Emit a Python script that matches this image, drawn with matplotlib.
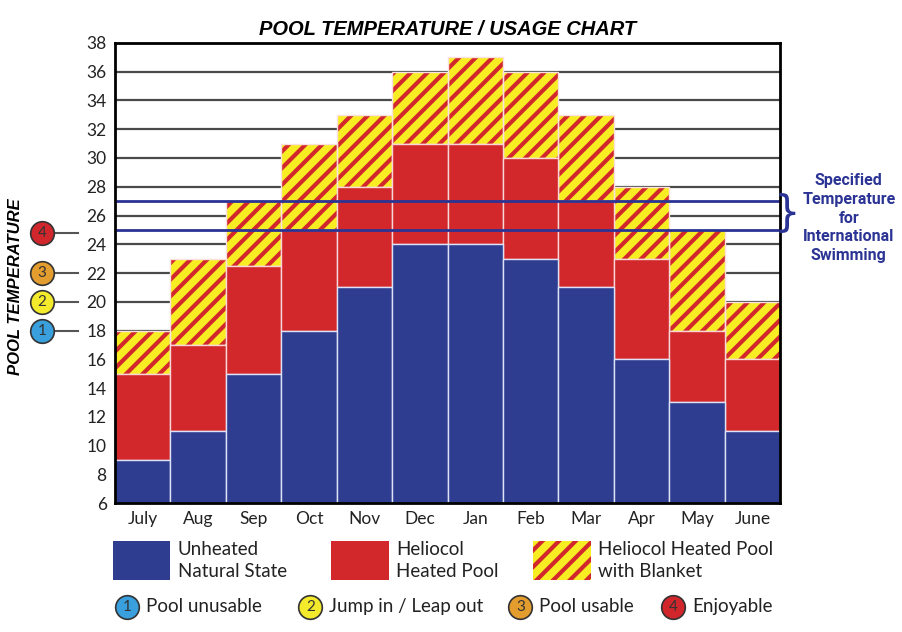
import numpy as np
import matplotlib.pyplot as plt
import matplotlib.transforms as mtransforms
from matplotlib.patches import Rectangle
from matplotlib.lines import Line2D

plt.rcParams['font.family'] = ['Lato', 'DejaVu Sans']
plt.rcParams['hatch.linewidth'] = 3.0

# datos
months = ['July', 'Aug', 'Sep', 'Oct', 'Nov', 'Dec', 'Jan', 'Feb', 'Mar', 'Apr', 'May', 'June']
unheated = [9, 11, 15, 18, 21, 24, 24, 23, 21, 16, 13, 11]
heated = [15, 17, 22.5, 25, 28, 31, 31, 30, 27, 23, 18, 16]
blanket = [18, 23, 27, 31, 33, 36, 37, 36, 33, 28, 25, 20]
spec_temps = [25, 27]
levels = [18, 20, 22, 24.8]
level_labels = ['Pool unusable', 'Jump in / Leap out', 'Pool usable', 'Enjoyable']
yticks = list(range(6, 39, 2))

c_blue = '#2F3D91'
c_red = '#D2282C'
c_yellow = '#F8EC22'
c_line = '#2B3494'
level_colors = ['#3A9FDD', '#F4EA2C', '#E39C2E', '#D1262B']

fig = plt.figure(figsize=(9.02, 6.32), dpi=100)
ax = fig.add_axes([0.1275, 0.204, 0.7375, 0.728])

x = np.arange(len(months))
# lineas de la grilla detras de las barras
for yv in yticks[1:-1]:
    ax.axhline(yv, color='#4a4a4a', lw=1.6, zorder=0)

# barras apiladas (cada capa llega hasta su temperatura)
ax.bar(x, np.array(blanket) - np.array(heated), bottom=heated, width=1,
       color=c_yellow, edgecolor=c_red, lw=0, hatch='//', zorder=2)
ax.bar(x, np.array(blanket) - np.array(heated), bottom=heated, width=1,
       fill=False, edgecolor='#fbe0e0', lw=1, zorder=3)
ax.bar(x, np.array(heated) - np.array(unheated), bottom=unheated, width=1,
       color=c_red, edgecolor='#f6d6d6', lw=1, zorder=3)
ax.bar(x, np.array(unheated) - 6, bottom=6, width=1,
       color=c_blue, edgecolor='#dde2f5', lw=1, zorder=3)

for t in spec_temps:
    ax.axhline(t, color=c_line, lw=2, zorder=4)

ax.set_xlim(-0.5, len(months) - 0.5)
ax.set_ylim(6, 38)
ax.set_yticks(yticks)
ax.set_xticks(x)
ax.set_xticklabels(months, fontsize=12.5)
ax.tick_params(axis='both', length=0, labelsize=12.5, colors='#222222')
ax.tick_params(axis='y', pad=6)
ax.tick_params(axis='x', pad=6)
for s in ax.spines.values():
    s.set_linewidth(2)
    s.set_zorder(5)

ax.set_title('POOL TEMPERATURE / USAGE CHART', fontsize=14.5, fontweight='bold',
             fontstyle='italic', family=['Liberation Sans', 'DejaVu Sans'], pad=6)
fig.text(0.017, 0.546, 'POOL TEMPERATURE', rotation=90, ha='center', va='center',
         fontsize=12, fontweight='bold', fontstyle='italic',
         family=['Liberation Sans', 'DejaVu Sans'])

# circulos numerados a la izquierda
trans = mtransforms.blended_transform_factory(ax.transAxes, ax.transData)
for i, lv in enumerate(levels):
    ax.plot([-0.095, -0.055], [lv, lv], color='#555555', lw=1.5,
            transform=trans, clip_on=False)
    ax.plot([-0.11], [lv], marker='o', ms=17, mfc=level_colors[i], mec='#333333',
            mew=1.2, transform=trans, clip_on=False)
    ax.text(-0.11, lv, str(i + 1), transform=trans, ha='center', va='center',
            fontsize=11, color='#333333')

# texto de la derecha
fig.text(0.873, 0.661, '}', fontsize=30, color=c_line, ha='center', va='center',
         family=['DejaVu Sans'])
fig.text(0.941, 0.655, 'Specified\nTemperature\nfor\nInternational\nSwimming',
         ha='center', va='center', fontsize=11.5, fontweight='bold', color=c_line,
         linespacing=1.3, family=['Liberation Sans Narrow', 'Roboto', 'DejaVu Sans'])

# leyenda de colores
boxes = [(0.125, c_blue, None, 'Unheated\nNatural State'),
         (0.367, c_red, None, 'Heliocol\nHeated Pool'),
         (0.591, c_yellow, '//', 'Heliocol Heated Pool\nwith Blanket')]
for bx, col, hat, lab in boxes:
    if hat:
        r = Rectangle((bx, 0.082), 0.064, 0.062, transform=fig.transFigure,
                      facecolor=col, edgecolor=c_red, lw=0, hatch=hat)
    else:
        r = Rectangle((bx, 0.082), 0.064, 0.062, transform=fig.transFigure,
                      facecolor=col, edgecolor='none')
    fig.add_artist(r)
    fig.text(bx + 0.072, 0.113, lab, ha='left', va='center', fontsize=13.5,
             color='#222222', linespacing=1.4)

# leyenda de niveles
circ_x = [0.141, 0.344, 0.577, 0.746]
for i, cx in enumerate(circ_x):
    fig.add_artist(Line2D([cx], [0.04], marker='o', ms=17, mfc=level_colors[i],
                          mec='#333333', mew=1.2, transform=fig.transFigure))
    fig.text(cx, 0.04, str(i + 1), ha='center', va='center', fontsize=11,
             color='#333333')
    fig.text(cx + 0.021, 0.04, level_labels[i], ha='left', va='center',
             fontsize=13.5, color='#222222')

fig.savefig('out.png', dpi=100)
